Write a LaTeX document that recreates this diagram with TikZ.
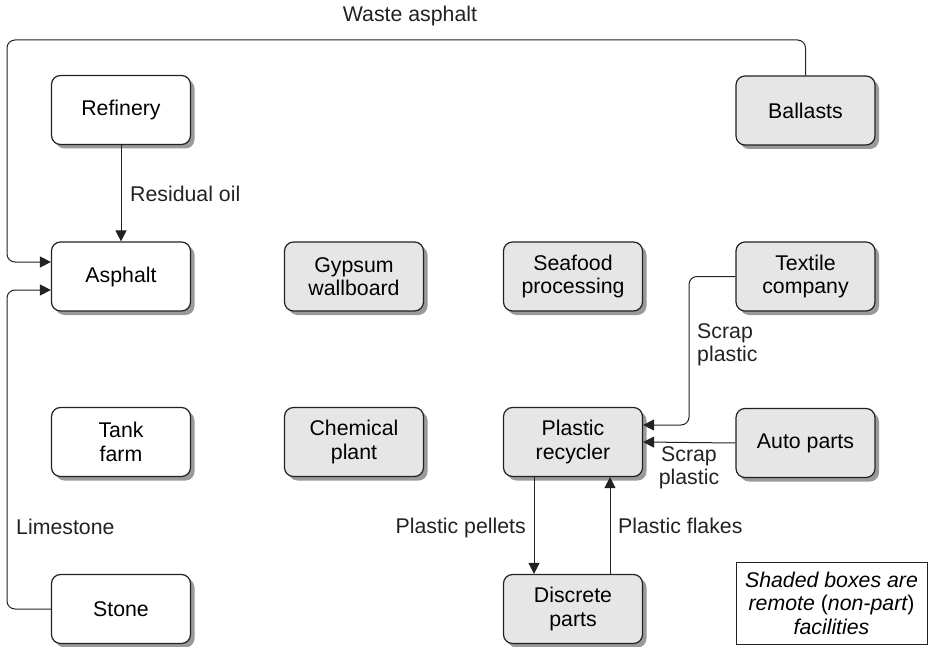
\documentclass[tikz,border=0pt]{standalone}
\usepackage{fontspec}
\setmainfont{Liberation Sans}
\usetikzlibrary{shadows,arrows.meta}
\definecolor{ink}{HTML}{222222}
\definecolor{remotefill}{HTML}{E6E6E7}
\definecolor{shade}{HTML}{9A9A9A}
\begin{document}
\begin{tikzpicture}[x=1pt,y=-1pt,
  font=\fontsize{21.3}{23.5}\selectfont,
  facility/.style={draw=ink, line width=1.2pt, rounded corners=9pt, fill=white,
    minimum width=139pt, minimum height=69pt, align=center, inner sep=2pt,
    drop shadow={shadow xshift=4pt, shadow yshift=-4pt, fill=shade, opacity=1}},
  remote/.style={facility, fill=remotefill},
  flow/.style={draw=ink, line width=1pt, -{Triangle[length=11pt,width=11pt]}},
  lbl/.style={inner sep=0pt, text=ink},
]
\useasboundingbox (0,0) rectangle (931,647);

% facilities
\node[facility] (ref)   at (121,110)   {Refinery};
\node[facility] (asp)   at (121,276.5) {Asphalt};
\node[facility] (tank)  at (121,442)   {Tank\\farm};
\node[facility] (stone) at (121,609)   {Stone};
\node[remote]   (gyp)   at (354,276.5) {Gypsum\\wallboard};
\node[remote]   (chem)  at (354,442)   {Chemical\\plant};
\node[remote]   (sea)   at (573,276.5) {Seafood\\processing};
\node[remote]   (plrec) at (573,442)   {Plastic\\recycler};
\node[remote]   (disc)  at (573,609)   {Discrete\\parts};
\node[remote]   (ball)  at (805.5,110.5) {Ballasts};
\node[remote]   (tex)   at (805.5,276.5) {Textile\\company};
\node[remote]   (auto)  at (805.5,443) {Auto parts};

% legend
\node[draw=ink, line width=1pt, minimum width=191pt, minimum height=82pt,
      align=center, inner sep=2pt] (legend) at (831.5,603)
  {\itshape Shaded boxes are\\\itshape remote \upshape(\itshape non-part\upshape)\\\itshape facilities};

% routing points
\coordinate (wtop)  at (7,40);
\coordinate (lsbot) at (7,290);
\coordinate (txbend) at (689,425);

% flows
\draw[flow] (ref.south) -- (asp.north);
\draw[flow, rounded corners=8pt] (ball.north) |- (wtop) |- ([yshift=14.5pt]asp.west);
\draw[flow, rounded corners=8pt] (stone.west) -| (lsbot) -- ([yshift=-13.5pt]asp.west);
\draw[flow, rounded corners=8pt] (tex.west) -| (txbend) -- ([yshift=17pt]plrec.east);
\draw[flow] (auto.west) -- (plrec.east);
\draw[flow] ([xshift=-39pt]plrec.south) -- ([xshift=-39pt]disc.north);
\draw[flow] ([xshift=37pt]disc.north) -- ([xshift=37pt]plrec.south);

% flow labels
\node[lbl, anchor=base] (lwaste) at (410,22) {Waste asphalt};
\node[lbl, anchor=base west] (lres) at (130,201) {Residual oil};
\node[lbl, anchor=base west] (llime) at (16,534) {Limestone};
\node[lbl, anchor=north west, align=left] (lscrap1) at (697,323) {Scrap\\plastic};
\node[lbl, anchor=north, align=center] (lscrap2) at (689,446) {Scrap\\plastic};
\node[lbl, anchor=base east] (lpel) at (526,533) {Plastic pellets};
\node[lbl, anchor=base west] (lflk) at (618,533) {Plastic flakes};
\end{tikzpicture}
\end{document}
